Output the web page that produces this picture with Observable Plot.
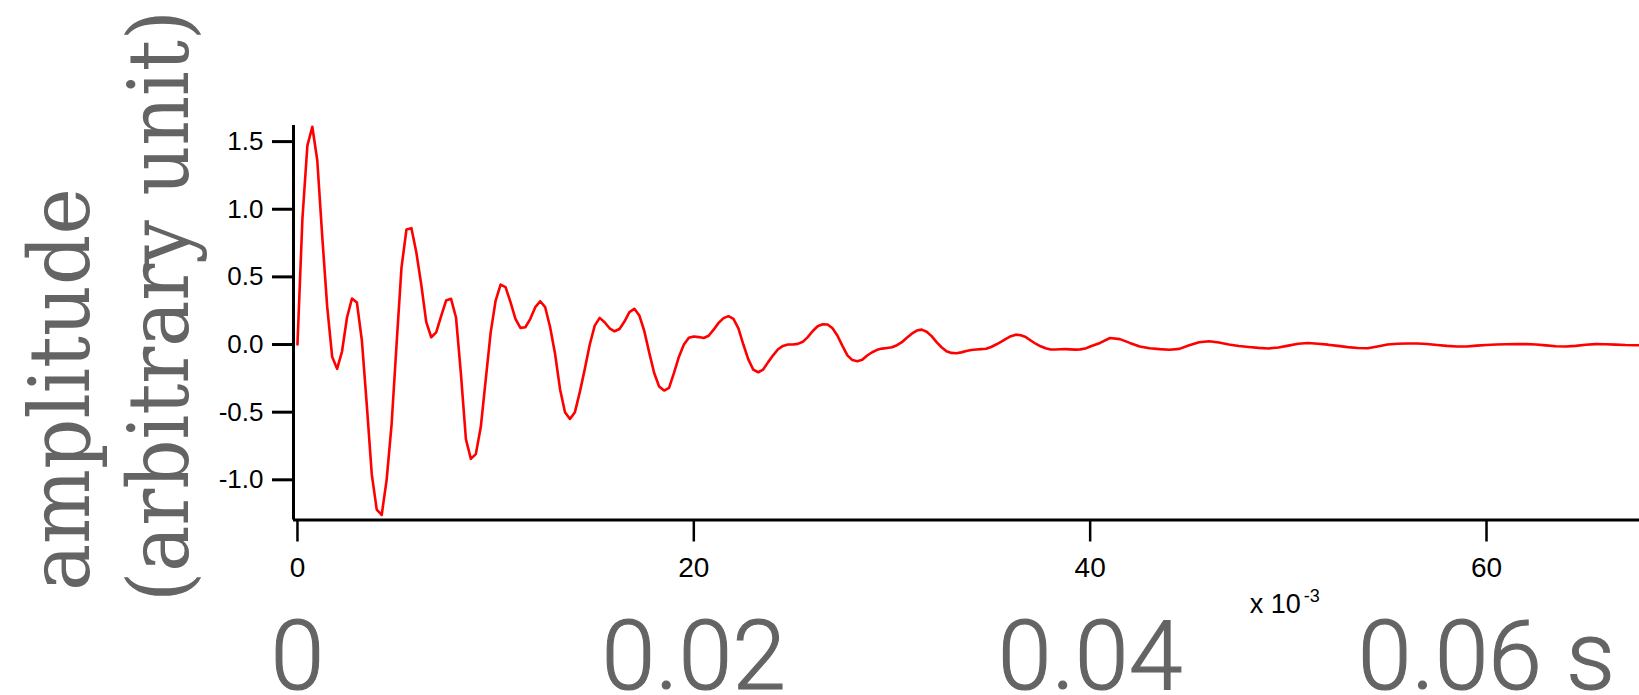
<!DOCTYPE html>
<html>
<head>
<meta charset="utf-8">
<script src="https://cdn.jsdelivr.net/npm/d3@7"></script>
<script src="https://cdn.jsdelivr.net/npm/@observablehq/plot@0.6"></script>
<style>
  html, body { margin: 0; padding: 0; background: #ffffff; }
</style>
</head>
<body>
<div id="chart"></div>
<script>
// ---- data (time in ms) ----
const sampleStepMs = 0.25; // regular sampling for 0 .. 40 ms
const amplitudeEarly = [
  0.0, 0.93, 1.47, 1.61, 1.36, 0.80, 0.28, -0.09, -0.18, -0.05,
  0.20, 0.34, 0.31, 0.03, -0.45, -0.96, -1.22, -1.26, -1.00, -0.59,
  0.0, 0.57, 0.85, 0.86, 0.68, 0.44, 0.165, 0.054, 0.09, 0.21,
  0.325, 0.338, 0.20, -0.22, -0.70, -0.845, -0.81, -0.61, -0.26, 0.09,
  0.325, 0.443, 0.424, 0.313, 0.19, 0.123, 0.128, 0.19, 0.276, 0.32,
  0.276, 0.128, -0.07, -0.33, -0.50, -0.55, -0.50, -0.35, -0.18, 0.0,
  0.14, 0.197, 0.165, 0.12, 0.098, 0.115, 0.17, 0.24, 0.264, 0.215,
  0.10, -0.06, -0.21, -0.31, -0.34, -0.32, -0.21, -0.09, 0.0, 0.05,
  0.06, 0.055, 0.048, 0.065, 0.11, 0.16, 0.195, 0.21, 0.19, 0.12,
  0.0, -0.11, -0.185, -0.205, -0.185, -0.13, -0.08, -0.035, -0.01, 0.0,
  0.0, 0.005, 0.02, 0.055, 0.10, 0.135, 0.15, 0.148, 0.12, 0.065,
  -0.01, -0.08, -0.115, -0.123, -0.113, -0.081, -0.057, -0.039, -0.03, -0.025,
  -0.02, -0.005, 0.017, 0.05, 0.08, 0.103, 0.11, 0.095, 0.062, 0.018,
  -0.02, -0.05, -0.062, -0.064, -0.058, -0.048, -0.041, -0.037, -0.034, -0.031,
  -0.018, 0.0, 0.02, 0.042, 0.062, 0.073, 0.068, 0.055, 0.03, 0.006,
  -0.013, -0.028, -0.037, -0.037, -0.035, -0.034, -0.036, -0.038, -0.036, -0.03,
  -0.015
];
const tailTimeMs = [
  40.5, 41, 41.5, 42, 42.5, 43, 43.5, 44, 44.5, 45, 45.5, 46, 46.5, 47, 47.5,
  48, 48.5, 49, 49.5, 50, 50.5, 51, 51.5, 52, 52.5, 53, 53.5, 54, 54.5, 55,
  55.5, 56, 56.5, 57, 57.5, 58, 58.5, 59, 59.5, 60, 60.5, 61, 61.5, 62, 62.5,
  63, 63.5, 64, 64.5, 65, 65.5, 66, 66.5, 67, 67.5, 68
];
const tailAmplitude = [
  0.012, 0.048, 0.04, 0.012, -0.014, -0.027, -0.034, -0.039, -0.032, -0.005, 0.017, 0.024, 0.015, 0.0, -0.011,
  -0.018, -0.025, -0.029, -0.022, -0.008, 0.006, 0.011, 0.006, -0.001, -0.01, -0.019, -0.026, -0.028, -0.014, 0.0,
  0.006, 0.008, 0.008, 0.004, -0.003, -0.01, -0.015, -0.014, -0.008, -0.003, 0.0, 0.002, 0.003, 0.003, 0.0,
  -0.006, -0.013, -0.015, -0.01, -0.002, 0.003, 0.002, -0.001, -0.004, -0.005, -0.005
];

const xTicks = [0, 20, 40, 60];               // ms
const yTicks = [-1.0, -0.5, 0.0, 0.5, 1.0, 1.5];
const secondsLabels = ["0", "0.02", "0.04", "0.06 s"];
const yTitleLines = ["amplitude", "(arbitrary unit)"];
const exponentLabel = [{x: 48.05, base: "x 10", power: "-3"}];

const xDomain = [-0.2, 67.72];
const yDomain = [-1.297, 1.619];

// ---- table ----
const rows = amplitudeEarly.map((v, i) => ({t: i * sampleStepMs, v}))
  .concat(tailTimeMs.map((t, i) => ({t, v: tailAmplitude[i]})));

const gray = "#646464";
const secondsFontSize = 97;

const chart = Plot.plot({
  width: 1639,
  height: 695,
  marginLeft: 293,
  marginRight: 0,
  marginTop: 125,
  marginBottom: 175.5,
  style: "font-family: 'Liberation Sans', Arial, sans-serif; background: #ffffff; overflow: visible;",
  x: {domain: xDomain},
  y: {domain: yDomain},
  marks: [
    Plot.line(rows, {x: "t", y: "v", stroke: "#ff0000", strokeWidth: 2.6, clip: true}),
    Plot.ruleX([xDomain[0]], {stroke: "#000", strokeWidth: 3}),
    Plot.ruleY([yDomain[0]], {stroke: "#000", strokeWidth: 3}),
    Plot.axisY(yTicks, {
      anchor: "left", tickSize: 21, tickPadding: 9, strokeWidth: 3,
      fontSize: 26, fontFamily: "Liberation Sans", color: "#000",
      tickFormat: d => d.toFixed(1), label: null
    }),
    Plot.axisX(xTicks, {
      anchor: "bottom", tickSize: 22, tickPadding: 15, strokeWidth: 2.5,
      fontSize: 28, fontFamily: "Liberation Sans", color: "#000",
      tickFormat: d => String(d), label: null
    }),
    Plot.axisX(xTicks, {
      anchor: "bottom", tickSize: 0, tickPadding: 100,
      fontSize: secondsFontSize, fontFamily: "Roboto", fontWeight: 300, fill: gray,
      tickFormat: d => secondsLabels[xTicks.indexOf(d)], label: null
    }),
    Plot.text(exponentLabel, {
      x: "x", text: "base", frameAnchor: "bottom", textAnchor: "start", lineAnchor: "bottom",
      dy: 92.5, fontSize: 27, fontFamily: "Liberation Sans", fill: "#000"
    }),
    Plot.text(exponentLabel, {
      x: "x", text: "power", frameAnchor: "bottom", textAnchor: "start", lineAnchor: "bottom",
      dx: 54, dy: 82, fontSize: 18, fontFamily: "Liberation Sans", fill: "#000"
    }),
    Plot.text([yTitleLines[0]], {
      frameAnchor: "bottom-left", rotate: -90, textAnchor: "start", lineAnchor: "bottom",
      dx: -205, dy: 71, fontSize: 85, fontFamily: "DejaVu Serif", fill: gray
    }),
    Plot.text([yTitleLines[1]], {
      frameAnchor: "bottom-left", rotate: -90, textAnchor: "start", lineAnchor: "bottom",
      dx: -106, dy: 82, fontSize: 85, fontFamily: "DejaVu Serif", fill: gray
    })
  ]
});

document.getElementById("chart").appendChild(chart);

// condense the serif title to the proportions of the original lettering,
// and give the large light seconds labels a touch more weight
const titleLengths = {"amplitude": 403, "(arbitrary unit)": 592};
chart.querySelectorAll("text").forEach(el => {
  const key = el.textContent;
  if (titleLengths[key]) {
    el.style.fontStretch = "condensed";
    el.setAttribute("textLength", titleLengths[key]);
    el.setAttribute("lengthAdjust", "spacingAndGlyphs");
  }
  const size = parseFloat(getComputedStyle(el).fontSize);
  if (size === secondsFontSize && secondsLabels.includes(key)) {
    el.setAttribute("stroke", gray);
    el.setAttribute("stroke-width", "1.1");
  }
});
</script>
</body>
</html>
